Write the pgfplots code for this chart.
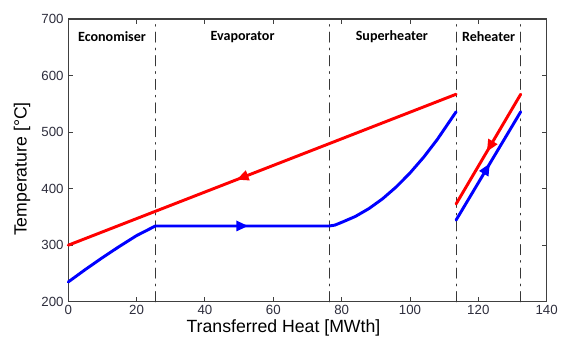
\documentclass[border=0pt]{standalone}
\usepackage{fontspec}
\setmainfont{Liberation Sans}
\newfontfamily\calib{Carlito}
\usepackage{pgfplots}
\pgfplotsset{compat=1.18}
\usetikzlibrary{decorations.markings, arrows.meta}

\definecolor{tickc}{RGB}{45,45,60}
\definecolor{framec}{RGB}{64,64,64}
\definecolor{divc}{RGB}{55,55,55}

\begin{document}
\begin{tikzpicture}
\useasboundingbox (-51.2bp,-34.7bp) rectangle (373.3bp,226.3bp);
\begin{axis}[
  anchor=south west, at={(0,0)},
  scale only axis,
  width=358.8bp, height=212bp,
  xmin=0, xmax=140, ymin=200, ymax=700,
  xtick={0,20,...,140}, ytick={200,300,...,700},
  tick align=inside,
  major tick length=3.5bp,
  axis line style={framec, line width=0.9bp},
  tick style={framec, line width=0.7bp},
  ticklabel style={font=\fontsize{10}{11}\selectfont, text=tickc},
  xticklabel style={yshift=1bp},
  /pgf/number format/assume math mode=true,
  xlabel={Transferred Heat [MWth]},
  ylabel={Temperature [°C]},
  label style={font=\fontsize{13.3}{15}\selectfont},
  xlabel style={at={(axis description cs:0.5,0)}, anchor=base, yshift=-22.7bp, xshift=-18bp},
  ylabel style={at={(axis description cs:0,0.5)}, anchor=center, yshift=34.7bp, xshift=-6.5bp},
  clip=false,
  every axis plot/.append style={line join=round, line cap=round},
]
% section dividers
\addplot[divc, line width=0.8bp, dash pattern=on 7.5bp off 4.5bp on 1.2bp off 4.5bp] coordinates {(25.5,200) (25.5,700)};
\addplot[divc, line width=0.8bp, dash pattern=on 7.5bp off 4.5bp on 1.2bp off 4.5bp] coordinates {(76.4,200) (76.4,700)};
\addplot[divc, line width=0.8bp, dash pattern=on 7.5bp off 4.5bp on 1.2bp off 4.5bp] coordinates {(113.5,200) (113.5,700)};
\addplot[divc, line width=0.8bp, dash pattern=on 7.5bp off 4.5bp on 1.2bp off 4.5bp] coordinates {(132.4,200) (132.4,700)};

% hot gas (red)
\addplot[red, line width=2.2bp, postaction={decorate},
  decoration={markings, mark=at position 0.434 with {\arrowreversed{Triangle[length=9bp,width=7.5bp]}}}]
  coordinates {(0,300) (113.5,567)};
\addplot[red, line width=2.2bp, postaction={decorate},
  decoration={markings, mark=at position 0.476 with {\arrowreversed{Triangle[length=9bp,width=7.5bp]}}}]
  coordinates {(113.5,373) (132.4,567)};

% water / steam (blue)
\addplot[blue, line width=2.2bp] coordinates {
  (0,235) (5,257) (10,278) (15,298) (20,317) (25.5,334)
  (76.4,334) (78,335.5) (80,340.4) (84,350.8) (88,364.8) (92,382.2)
  (96,403.2) (100,427.7) (104,455.6) (108,487.1) (113.5,536)};
\addplot[blue, line width=2.2bp, postaction={decorate},
  decoration={markings, mark=at position 0.534 with {\arrow{Triangle[length=9bp,width=7.5bp]}}}]
  coordinates {(25.5,334) (76.4,334)};
\addplot[blue, line width=2.2bp, postaction={decorate},
  decoration={markings, mark=at position 0.524 with {\arrow{Triangle[length=9bp,width=7.5bp]}}}]
  coordinates {(113.5,344.5) (132.4,536)};

% section labels
\node[font=\calib\bfseries\fontsize{10.6}{12}\selectfont] at (axis cs:12.8,669) {Economiser};
\node[font=\calib\bfseries\fontsize{10.6}{12}\selectfont] at (axis cs:51,669) {Evaporator};
\node[font=\calib\bfseries\fontsize{10.6}{12}\selectfont] at (axis cs:94.7,669) {Superheater};
\node[font=\calib\bfseries\fontsize{10.6}{12}\selectfont] at (axis cs:123,669) {Reheater};
\end{axis}
\end{tikzpicture}
\end{document}
